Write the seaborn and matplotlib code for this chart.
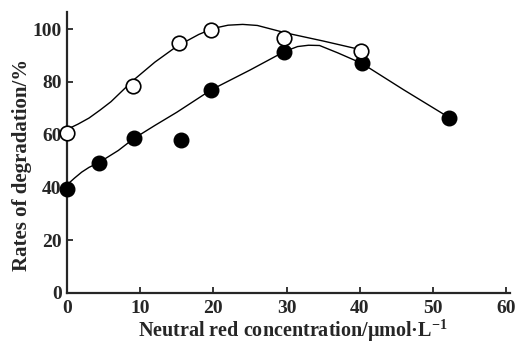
import matplotlib
matplotlib.use("Agg")
import matplotlib.pyplot as plt
import seaborn as sns
import pandas as pd

# Measured points
open_x = [0, 9.0, 15.3, 19.7, 29.7, 40.2]
open_y = [60.5, 78.5, 94.7, 99.6, 96.8, 91.7]
filled_x = [0, 4.4, 9.1, 15.5, 19.7, 29.7, 40.3, 52.2]
filled_y = [39.5, 49.2, 58.8, 58.0, 77.0, 91.4, 87.0, 66.5]

# Hand-drawn fitted curves
open_curve_x = [0, 1.5, 3, 4.5, 6, 9, 12, 15, 18, 20, 22, 24, 26, 30, 35, 40]
open_curve_y = [62, 64, 66.3, 69.3, 72.5, 80.5, 87.5, 93.5, 98, 100.3, 101.5, 101.8, 101.4, 98.5, 95.5, 92.3]
filled_curve_x = [0, 1, 2, 3, 4.4, 7, 9.1, 12, 15, 19.7, 25, 29.7, 31.5, 33, 34.5, 37, 40.3, 46, 52.2]
filled_curve_y = [41, 43.5, 45.8, 47.6, 49.5, 54, 58.5, 63.5, 68.5, 77, 84.5, 91.5, 93.4, 93.9, 93.8, 91, 87, 77, 66.5]

x_ticks = [0, 10, 20, 30, 40, 50, 60]
y_ticks = [0, 20, 40, 60, 80, 100]

sns.set_style("ticks")
plt.rcParams['font.family'] = ['Liberation Serif', 'DejaVu Serif']
plt.rcParams['font.weight'] = 'bold'
plt.rcParams['mathtext.fontset'] = 'custom'
plt.rcParams['mathtext.rm'] = 'Liberation Serif:bold'
plt.rcParams['mathtext.bf'] = 'Liberation Serif:bold'

fig = plt.figure(figsize=(5.16, 3.43), dpi=100)
ax = fig.add_axes([0.130, 0.146, 0.858, 0.819])

oc = pd.DataFrame({"x": open_curve_x, "y": open_curve_y})
fc = pd.DataFrame({"x": filled_curve_x, "y": filled_curve_y})
sns.lineplot(data=oc, x="x", y="y", ax=ax, color="black", lw=1.0, sort=False, estimator=None)
sns.lineplot(data=fc, x="x", y="y", ax=ax, color="black", lw=1.0, sort=False, estimator=None)

op = pd.DataFrame({"x": open_x, "y": open_y})
fp = pd.DataFrame({"x": filled_x, "y": filled_y})
sns.scatterplot(data=fp, x="x", y="y", ax=ax, color="black", s=110, edgecolor="black", linewidth=1.0, zorder=3)
sns.scatterplot(data=op, x="x", y="y", ax=ax, color="white", s=110, edgecolor="black", linewidth=1.2, zorder=4)

ax.set_xlim(0, 60.5)
ax.set_ylim(0, 106.5)
ax.set_xticks(x_ticks)
ax.set_yticks(y_ticks)
ax.tick_params(direction="in", length=4, width=1.3, labelsize=14)
ax.tick_params(axis="x", pad=5)
ax.tick_params(axis="y", pad=4)
for lab in ax.get_xticklabels() + ax.get_yticklabels():
    lab.set_fontweight("bold")
for s in ["top", "right"]:
    ax.spines[s].set_visible(False)
for s in ["left", "bottom"]:
    ax.spines[s].set_linewidth(1.6)

ax.set_xlabel("Neutral red concentration/\u03bcmol\u00b7L$^{-1}$", fontsize=14.5, fontweight="bold")
ax.set_ylabel("Rates of degradation/%", fontsize=15, fontweight="bold")
ax.xaxis.set_label_coords(0.51, -0.086)
ax.yaxis.set_label_coords(-0.08, 0.455)
for c in ax.collections + ax.lines:
    c.set_clip_on(False)

fig.savefig("out.png", dpi=100)
